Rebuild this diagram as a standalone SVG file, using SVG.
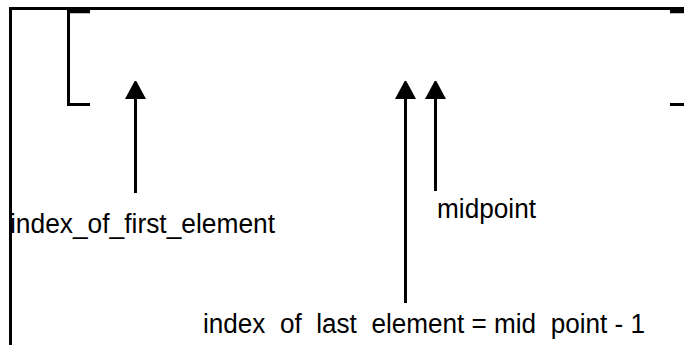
<svg xmlns="http://www.w3.org/2000/svg" width="684" height="345" viewBox="0 0 684 345">
<style>
.ln{stroke:#000;stroke-width:3;fill:none}
.tx{font-family:"Liberation Sans",Arial,sans-serif;font-size:27px;fill:#000;white-space:pre}
</style>
<defs>
<marker id="ah" markerWidth="6" markerHeight="7" refX="1" refY="3.5" orient="auto" markerUnits="strokeWidth"><path d="M0,0 L6.5,3.5 L0,7 z" fill="#000"/></marker>
</defs>
<rect width="684" height="345" fill="#fff"/>
<g id="frame">
<path class="ln" d="M10.5,345 V8.5 H684"/>
<path class="ln" d="M68.5,10 V104.5 H90"/>
<path stroke="#000" stroke-width="3.5" d="M68,11.5 H90"/>
<path stroke="#000" stroke-width="3.5" d="M670,11.5 H684"/>
<path class="ln" d="M670,104.5 H684"/>
</g>
<g id="connectors">
<path class="ln" d="M135.5,193 V96" marker-end="url(#ah)"/>
<path class="ln" d="M405.5,303 V96" marker-end="url(#ah)"/>
<path class="ln" d="M435.5,191 V96" marker-end="url(#ah)"/>
</g>
<g id="label-first"><text class="tx" x="10" y="233" textLength="265" lengthAdjust="spacingAndGlyphs">index_of_first_element</text></g>
<g id="label-mid"><text class="tx" x="437" y="218" textLength="99" lengthAdjust="spacingAndGlyphs">midpoint</text></g>
<g id="label-last"><text class="tx" x="203" y="333" xml:space="preserve" textLength="442" lengthAdjust="spacingAndGlyphs">index  of  last  element = mid  point - 1</text></g>
</svg>
